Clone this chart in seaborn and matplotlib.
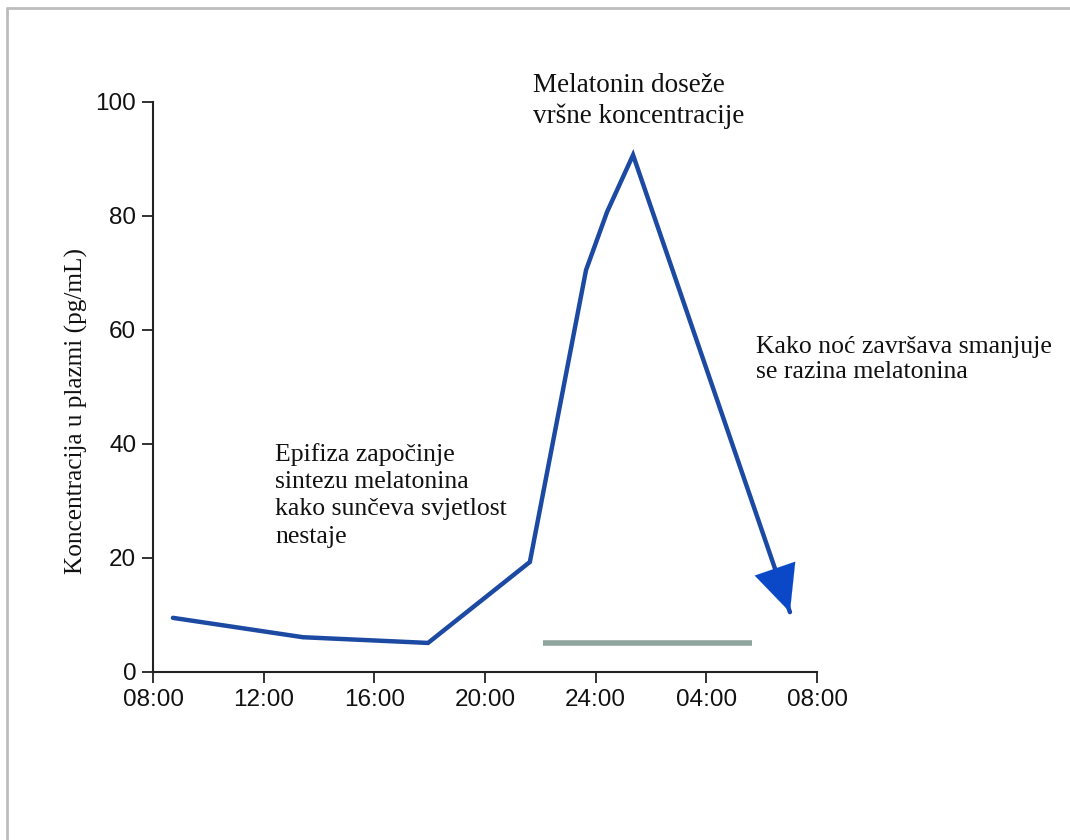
import matplotlib
matplotlib.use("Agg")
import matplotlib.pyplot as plt
from matplotlib.lines import Line2D
import seaborn as sns
import pandas as pd

# ---- data ----
hours = [8.72, 13.42, 17.94, 21.62, 23.65, 24.41, 25.35, 31.02]
melatonin = [9.5, 6.1, 5.1, 19.3, 70.5, 80.7, 90.7, 10.5]
night_start = [22.1]
night_end = [29.65]
night_level = [5.1]
xtick_pos = [8, 12, 16, 20, 24, 28, 32]
xtick_labels = ["08:00", "12:00", "16:00", "20:00", "24:00", "04:00", "08:00"]
ytick_pos = [0, 20, 40, 60, 80, 100]
ylabel = "Koncentracija u plazmi (pg/mL)"
note_texts = [
    "Melatonin doseže\nvršne koncentracije",
    "Epifiza započinje\nsintezu melatonina\nkako sunčeva svjetlost\nnestaje",
    "Kako noć završava smanjuje\nse razina melatonina",
]
note_x = [21.73, 12.41, 29.79]
note_y = [105.0, 40.2, 59.0]

sns.set_theme(style="ticks")
plt.rcParams["font.family"] = ["Liberation Sans", "DejaVu Sans"]

fig = plt.figure(figsize=(10.7, 8.4), dpi=100)
ax = fig.add_axes([0.143, 0.2, 0.7636 - 0.143, 0.8786 - 0.2])

df = pd.DataFrame({"h": hours, "v": melatonin})
line_color = "#1c4aa3"
sns.lineplot(data=df, x="h", y="v", ax=ax, color=line_color, linewidth=3.2,
             sort=False, estimator=None)
ax.lines[-1].set_solid_joinstyle("miter")

# arrow head at the end of the falling line
x0, y0 = hours[-2], melatonin[-2]
x1, y1 = hours[-1], melatonin[-1]
t = 0.82
ax.annotate("", xy=(x1, y1), xytext=(x0 + t * (x1 - x0), y0 + t * (y1 - y0)),
            arrowprops=dict(arrowstyle="-|>,head_length=1.5,head_width=0.7",
                            color="#0b48c8", lw=0.1, shrinkA=0, shrinkB=0,
                            mutation_scale=22))

ax.hlines(night_level, night_start, night_end, color="#8fa49c", linewidth=4.0)

ax.set_xlim(8, 32)
ax.set_ylim(0, 100)
ax.set_xticks(xtick_pos)
ax.set_xticklabels(xtick_labels)
ax.set_yticks(ytick_pos)
ax.tick_params(axis="both", labelsize=17.5, length=8, width=1.3, color="#222222",
               labelcolor="#111111", pad=4)
for s in ["top", "right"]:
    ax.spines[s].set_visible(False)
for s in ["left", "bottom"]:
    ax.spines[s].set_linewidth(1.5)
    ax.spines[s].set_color("#222222")
ax.set_xlabel("")
ax.set_ylabel(ylabel, family=["Liberation Serif", "DejaVu Serif"], fontsize=18.2,
              color="#111111")
ax.yaxis.set_label_coords(-0.0974, 0.457)

note_sizes = [19.5, 18.5, 18.5]
note_ls = [1.27, 1.31, 1.2]
for txt, x, y, fs, ls in zip(note_texts, note_x, note_y, note_sizes, note_ls):
    ax.text(x, y, txt, family=["Liberation Serif", "DejaVu Serif"], fontsize=fs,
            ha="left", va="top", linespacing=ls, color="#111111", clip_on=False)

# border of the picture (top and left visible)
fig.add_artist(Line2D([0.0065, 0.0065], [0, 0.9905], transform=fig.transFigure,
                      color="#bdbdbd", linewidth=2))
fig.add_artist(Line2D([0.0065, 1.0], [0.9905, 0.9905], transform=fig.transFigure,
                      color="#bdbdbd", linewidth=2))

fig.savefig("out.png", dpi=100, facecolor="white")
